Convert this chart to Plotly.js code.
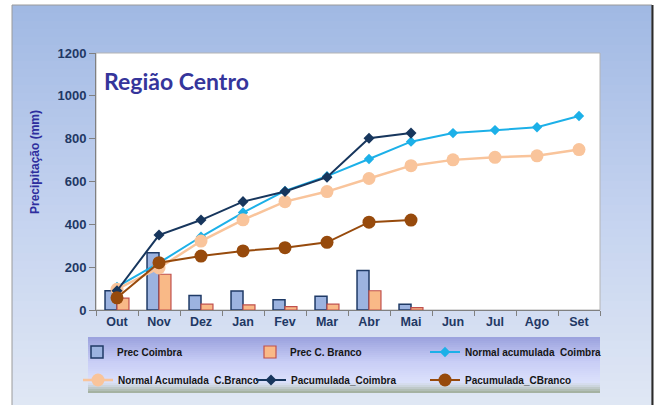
<!DOCTYPE html>
<html><head><meta charset="utf-8">
<script src="https://cdn.plot.ly/plotly-3.0.1.min.js"></script>
<style>html,body{margin:0;padding:0;background:#fff}#chart{width:661px;height:405px}</style>
</head><body><div id="chart"></div>
<script>
// ---- data ----
const months = ['Out','Nov','Dez','Jan','Fev','Mar','Abr','Mai','Jun','Jul','Ago','Set'];
const precCoimbra = [90, 267, 68, 89, 48, 64, 184, 27];
const precCBranco = [55, 167, 27, 24, 16, 27, 90, 11];
const normalCoimbra = [108, 220, 342, 455, 556, 625, 705, 786, 826, 840, 853, 906];
const normalCBranco = [97, 196, 322, 421, 506, 553, 614, 674, 701, 713, 720, 749];
const pacCoimbra = [90, 350, 420, 506, 553, 620, 802, 826];
const pacCBranco = [57, 221, 252, 276, 291, 316, 410, 420];

// ---- geometry helpers (pixel -> paper) ----
const W=661, H=405, L=96, R=61, T=53, B=95;
const PW=W-L-R, PH=H-T-B;
const px = x => (x-L)/PW;
const py = y => (H-B-y)/PH;
function hex(h){return [parseInt(h.slice(1,3),16),parseInt(h.slice(3,5),16),parseInt(h.slice(5,7),16)];}
function colorAt(stops,t){
  for(let i=0;i<stops.length-1;i++){
    const a=stops[i], b=stops[i+1];
    if(t<=b[0]){const f=(t-a[0])/(b[0]-a[0]||1);const ca=hex(a[1]),cb=hex(b[1]);
      return 'rgb('+ca.map((v,k)=>Math.round(v+(cb[k]-v)*f)).join(',')+')';}
  }
  const c=hex(stops[stops.length-1][1]);return 'rgb('+c.join(',')+')';
}
function grad(stops,x0,x1,y0,y1,n){
  const out=[];const h=(y1-y0)/n;
  for(let i=0;i<n;i++){
    out.push({type:'rect',xref:'paper',yref:'paper',layer:'below',
      x0:px(x0),x1:px(x1),y0:py(y0+i*h),y1:py(Math.min(y1,y0+(i+1)*h+0.6)),
      fillcolor:colorAt(stops,(i+0.5)/n),line:{width:0}});
  }
  return out;
}
const shapes = [].concat(
  grad([[0,'#a0b8e3'],[0.5,'#c3d2ef'],[1,'#e0e7f4']],12,652,5,405,50),
  [{type:'rect',xref:'paper',yref:'paper',layer:'below',x0:px(12),x1:px(652),y0:py(5),y1:py(406),line:{color:'#9a9a9a',width:1}},
   {type:'line',xref:'paper',yref:'paper',layer:'below',x0:px(652.5),x1:px(652.5),y0:py(5),y1:py(406),line:{color:'#2a2a2a',width:2}},
   {type:'rect',xref:'paper',yref:'paper',layer:'below',x0:0,x1:1,y0:0,y1:1,fillcolor:'#ffffff',line:{color:'#b4b4b4',width:1}}],
  grad([[0,'#9aa1dd'],[0.45,'#c9cef6'],[0.8,'#dbe0fb'],[0.86,'#d2dae6'],[1,'#9eac98']],88,600,337,393,28)
);

const legFont = {family:'Liberation Sans, Arial, sans-serif', size:10, color:'#151515', weight:'bold'};
const traces = [
  {type:'bar', name:'Prec Coimbra', x:months.slice(0,precCoimbra.length), y:precCoimbra,
   marker:{color:'#9cb3e0', line:{color:'#1f3a66', width:1.5}}, legend:'legend'},
  {type:'bar', name:'Prec C. Branco', x:months.slice(0,precCBranco.length), y:precCBranco,
   marker:{color:'#f9b987', line:{color:'#c0504d', width:1.2}}, legend:'legend'},
  {type:'scatter', mode:'lines+markers', name:'Normal acumulada  Coimbra', x:months, y:normalCoimbra,
   line:{color:'#1cb0e8', width:2}, marker:{symbol:'diamond', size:8, color:'#1cb0e8'}, legend:'legend3'},
  {type:'scatter', mode:'lines+markers', name:'Normal Acumulada  C.Branco', x:months, y:normalCBranco,
   line:{color:'#f9c49b', width:2.5}, marker:{symbol:'circle', size:13, color:'#f9c49b'}, legend:'legend2'},
  {type:'scatter', mode:'lines+markers', name:'Pacumulada_Coimbra', x:months.slice(0,pacCoimbra.length), y:pacCoimbra,
   line:{color:'#17365d', width:2}, marker:{symbol:'diamond', size:8.5, color:'#17365d'}, legend:'legend2'},
  {type:'scatter', mode:'lines+markers', name:'Pacumulada_CBranco', x:months.slice(0,pacCBranco.length), y:pacCBranco,
   line:{color:'#974a0c', width:2}, marker:{symbol:'circle', size:13, color:'#974a0c'}, legend:'legend4'}
];

const tickFontX = {family:'Liberation Sans, Arial, sans-serif', size:12.5, color:'#1f3864', weight:'bold'};
const tickFontY = {family:'Liberation Sans, Arial, sans-serif', size:13, color:'#1f3864', weight:'bold'};
const legBase = {orientation:'h', xanchor:'left', yanchor:'middle', bgcolor:'rgba(0,0,0,0)',
  font:legFont, itemsizing:'trace', traceorder:'normal', borderwidth:0};
const legWide = Object.assign({}, legBase, {entrywidth:128, entrywidthmode:'pixels'});

const layout = {
  width:W, height:H, margin:{l:L, r:R, t:T, b:B, autoexpand:false},
  paper_bgcolor:'#ffffff', plot_bgcolor:'rgba(0,0,0,0)',
  barmode:'group', bargap:0.43, bargroupgap:0,
  title:{text:'Região Centro', xref:'paper', yref:'paper', x:px(104), xanchor:'left', y:py(82), yanchor:'middle',
    font:{family:'Lato, sans-serif', size:23, color:'#35359b', weight:'bold'}},
  xaxis:{type:'category', categoryorder:'array', categoryarray:months, range:[-0.5,11.5],
    tickson:'boundaries', ticks:'outside', ticklen:5, tickcolor:'#808080', showline:true, linecolor:'#808080', linewidth:1,
    showgrid:false, tickfont:tickFontX, fixedrange:true},
  yaxis:{range:[0,1200], dtick:200, ticks:'outside', ticklen:6, tickcolor:'#808080', showline:true, linecolor:'#808080',
    linewidth:1, showgrid:false, zeroline:false, tickfont:tickFontY, fixedrange:true},
  legend:Object.assign({}, legWide, {x:px(77), y:py(352)}),
  legend2:Object.assign({}, legWide, {x:px(78), y:py(380)}),
  legend3:Object.assign({}, legBase, {x:px(425), y:py(352)}),
  legend4:Object.assign({}, legBase, {x:px(425), y:py(380)}),
  shapes:shapes,
  annotations:[{text:'Precipitação (mm)', textangle:-90, xref:'paper', yref:'paper', x:px(35), y:py(162),
    xanchor:'center', yanchor:'middle', showarrow:false,
    font:{family:'Liberation Sans, Arial, sans-serif', size:12, color:'#2e2e9e', weight:'bold'}}]
};
Plotly.newPlot('chart', traces, layout, {displayModeBar:false, staticPlot:true});
</script></body></html>
